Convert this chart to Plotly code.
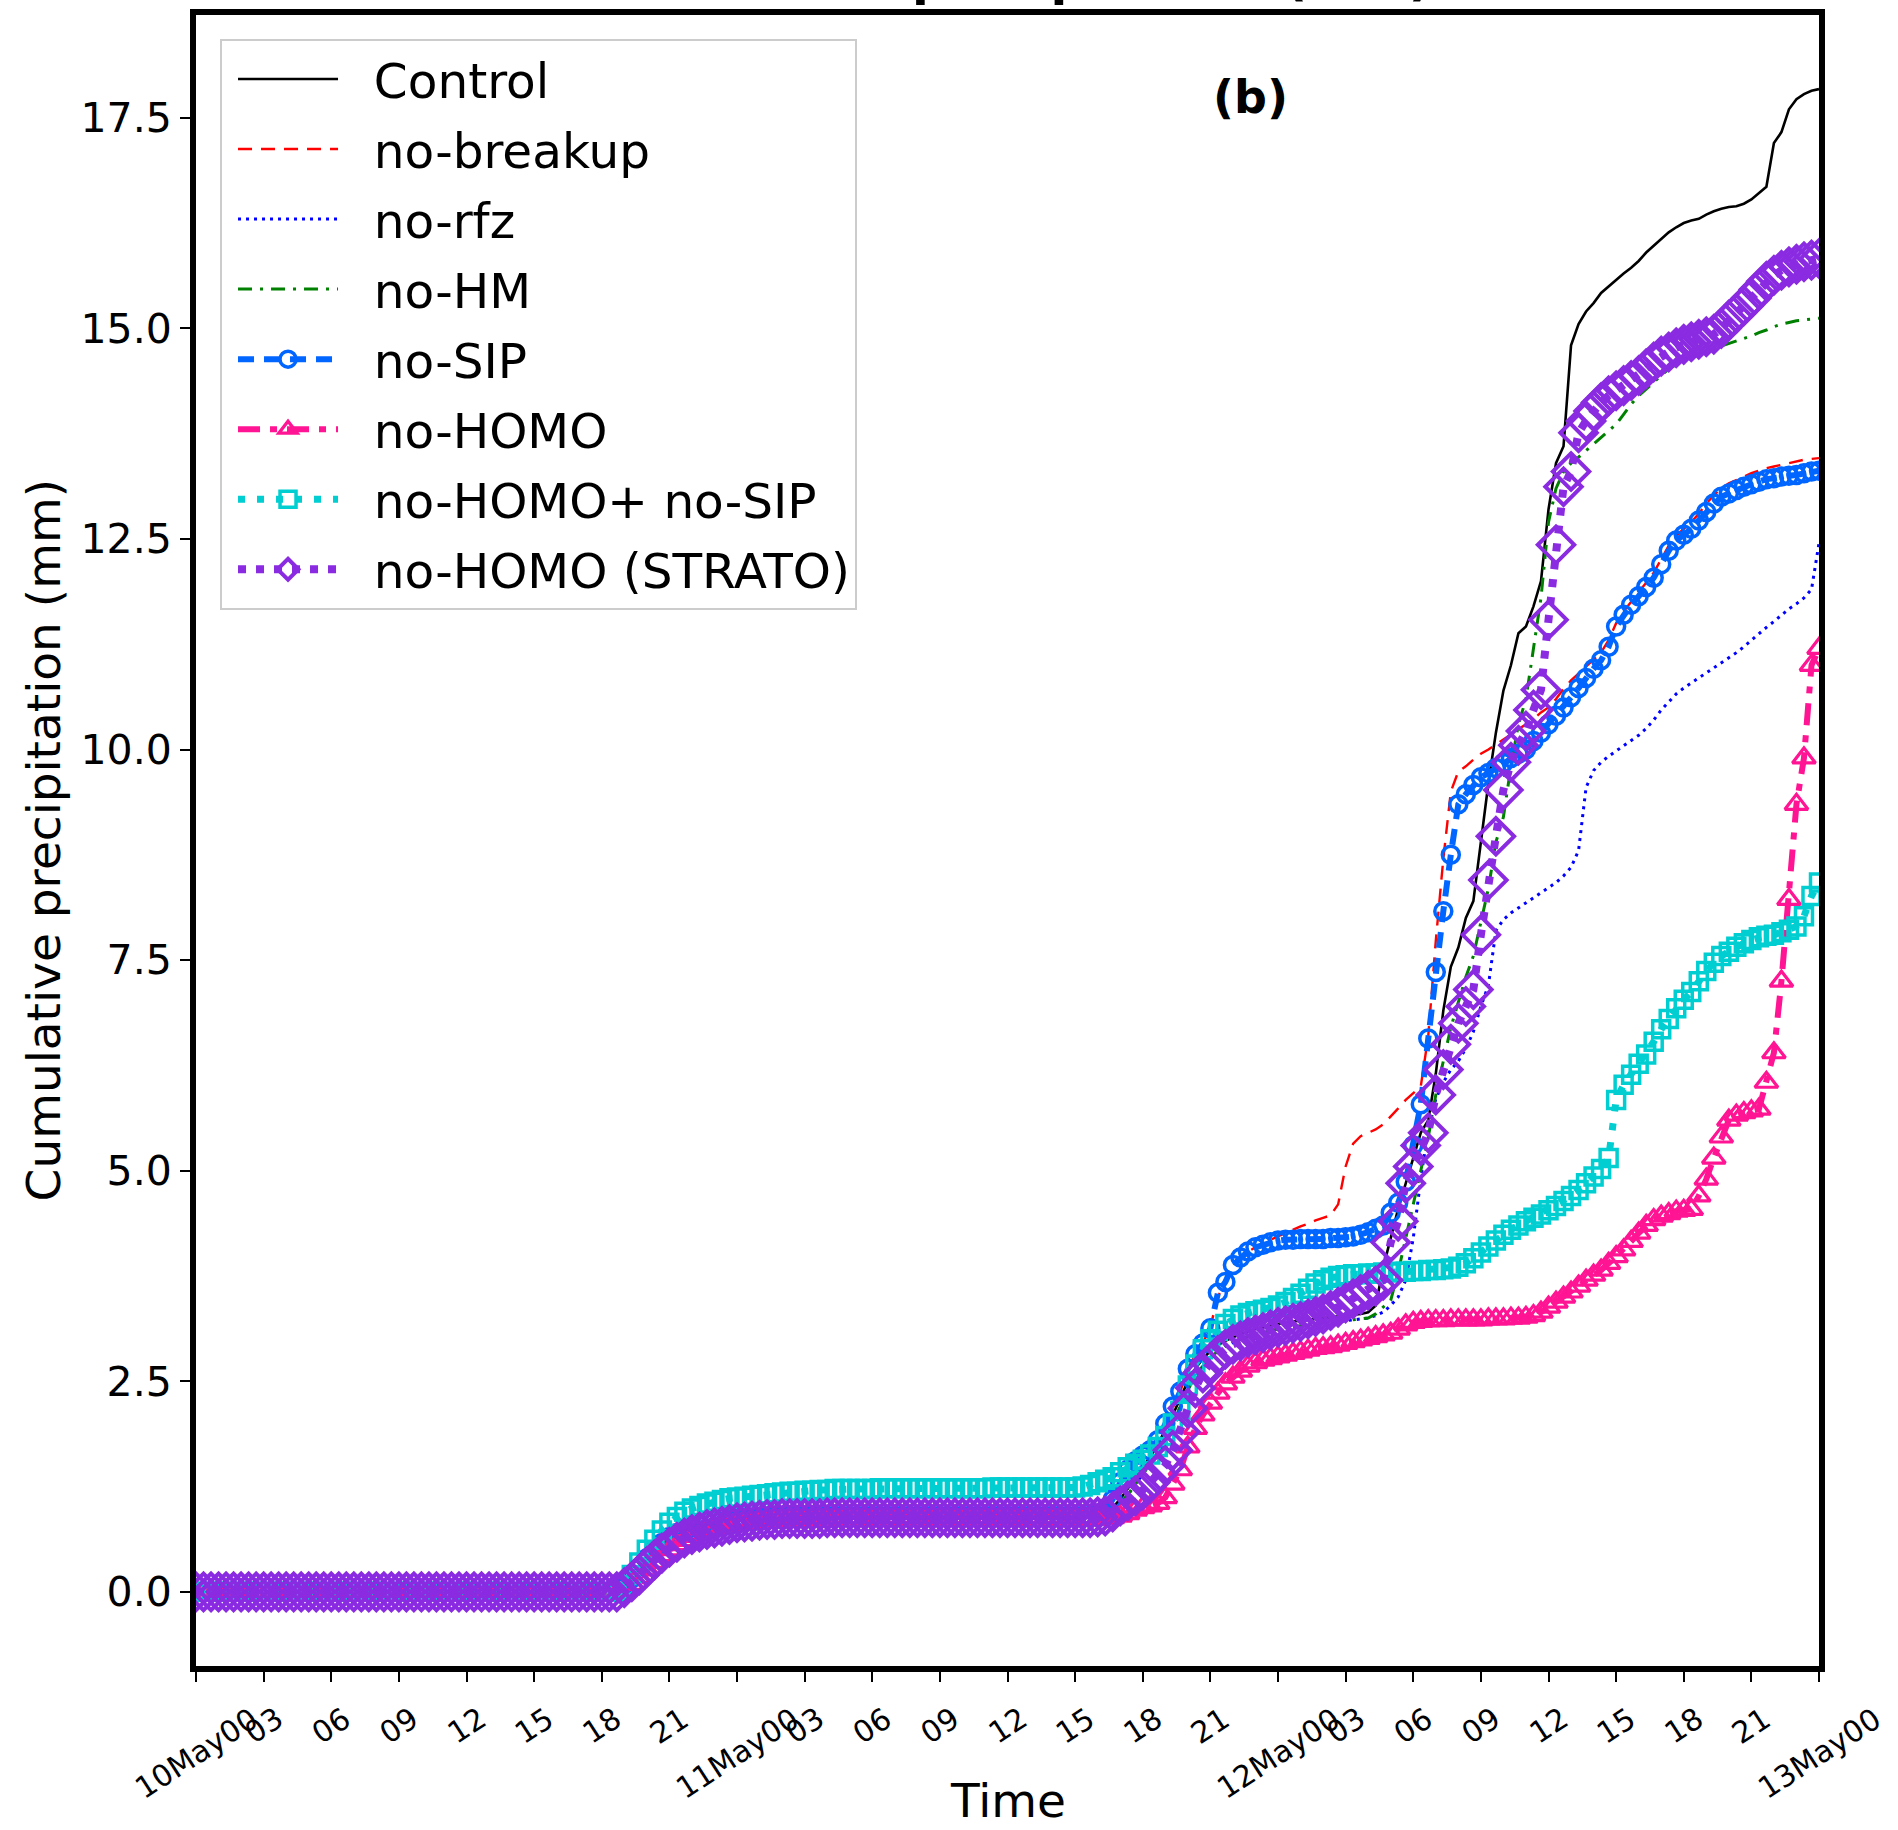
import plotly.graph_objects as go

# Model output every 20 minutes, from 10May00 to 13May00 (hours since 10May 00 UTC)
hours = [k / 3 for k in range(217)]

control = [
    0, 0, 0, 0, 0, 0, 0, 0, 0, 0, 0, 0, 0, 0, 0, 0, 0, 0,
    0, 0, 0, 0, 0, 0, 0, 0, 0, 0, 0, 0, 0, 0, 0, 0, 0, 0,
    0, 0, 0, 0, 0, 0, 0, 0, 0, 0, 0, 0, 0, 0, 0, 0, 0, 0,
    0, 0, 0, 0.05, 0.14, 0.25, 0.36, 0.46, 0.55, 0.62, 0.68, 0.73, 0.76, 0.79, 0.81, 0.83, 0.84, 0.85,
    0.86, 0.87, 0.88, 0.88, 0.89, 0.89, 0.9, 0.9, 0.9, 0.9, 0.9, 0.9, 0.9, 0.9, 0.9, 0.9, 0.9, 0.9,
    0.9, 0.9, 0.9, 0.9, 0.9, 0.9, 0.9, 0.9, 0.9, 0.9, 0.9, 0.9, 0.9, 0.9, 0.9, 0.9, 0.9, 0.9,
    0.9, 0.9, 0.9, 0.9, 0.9, 0.9, 0.9, 0.9, 0.9, 0.9, 0.9, 0.9, 0.9, 0.93, 1.0, 1.1, 1.22, 1.35,
    1.48, 1.6, 1.75, 1.92, 2.1, 2.3, 2.5, 2.65, 2.77, 2.86, 2.93, 2.98, 3.02, 3.06, 3.09, 3.12, 3.14, 3.16,
    3.18, 3.2, 3.21, 3.22, 3.23, 3.24, 3.25, 3.26, 3.27, 3.28, 3.29, 3.3, 3.32, 3.4, 3.85, 4.2, 4.55, 4.85,
    5.15, 5.45, 5.6, 6.15, 6.9, 7.42, 7.65, 8.0, 8.2, 8.9, 9.6, 10.2, 10.7, 11.0, 11.38, 11.46, 11.7, 12.0,
    12.85, 13.4, 13.6, 14.8, 15.05, 15.2, 15.3, 15.42, 15.5, 15.57, 15.65, 15.72, 15.8, 15.9, 15.98, 16.07, 16.14, 16.2,
    16.25, 16.28, 16.3, 16.35, 16.39, 16.42, 16.44, 16.45, 16.48, 16.53, 16.6, 16.68, 17.2, 17.33, 17.6, 17.72, 17.78, 17.82,
    17.84,
]

no_breakup = [
    0, 0, 0, 0, 0, 0, 0, 0, 0, 0, 0, 0, 0, 0, 0, 0, 0, 0,
    0, 0, 0, 0, 0, 0, 0, 0, 0, 0, 0, 0, 0, 0, 0, 0, 0, 0,
    0, 0, 0, 0, 0, 0, 0, 0, 0, 0, 0, 0, 0, 0, 0, 0, 0, 0,
    0, 0, 0, 0.06, 0.16, 0.28, 0.4, 0.5, 0.58, 0.65, 0.7, 0.74, 0.77, 0.8, 0.82, 0.84, 0.85, 0.86,
    0.87, 0.88, 0.88, 0.89, 0.89, 0.9, 0.9, 0.9, 0.9, 0.9, 0.9, 0.9, 0.9, 0.9, 0.9, 0.9, 0.9, 0.9,
    0.9, 0.9, 0.9, 0.9, 0.9, 0.9, 0.9, 0.9, 0.9, 0.9, 0.9, 0.9, 0.9, 0.9, 0.9, 0.9, 0.9, 0.9,
    0.9, 0.9, 0.9, 0.9, 0.9, 0.9, 0.9, 0.9, 0.9, 0.9, 0.9, 0.9, 0.92, 0.97, 1.1, 1.3, 1.45, 1.55,
    1.62, 1.68, 1.8, 2.0, 2.2, 2.38, 2.65, 2.82, 2.95, 3.15, 3.5, 3.68, 3.88, 3.97, 4.04, 4.09, 4.14, 4.18,
    4.22, 4.26, 4.3, 4.34, 4.37, 4.41, 4.44, 4.47, 4.6, 5.05, 5.32, 5.41, 5.45, 5.49, 5.55, 5.64, 5.74, 5.84,
    5.92, 6.0, 6.6, 7.73, 8.7, 9.5, 9.74, 9.8, 9.88, 9.95, 10.0, 10.06, 10.13, 10.19, 10.25, 10.3, 10.36, 10.44,
    10.5, 10.6, 10.72, 10.82, 10.9, 10.98, 11.06, 11.15, 11.3, 11.5, 11.64, 11.76, 11.87, 11.98, 12.1, 12.26, 12.42, 12.54,
    12.62, 12.7, 12.8, 12.92, 13.02, 13.1, 13.16, 13.2, 13.24, 13.28, 13.31, 13.34, 13.36, 13.38, 13.4, 13.42, 13.44, 13.45,
    13.46,
]

no_rfz = [
    0, 0, 0, 0, 0, 0, 0, 0, 0, 0, 0, 0, 0, 0, 0, 0, 0, 0,
    0, 0, 0, 0, 0, 0, 0, 0, 0, 0, 0, 0, 0, 0, 0, 0, 0, 0,
    0, 0, 0, 0, 0, 0, 0, 0, 0, 0, 0, 0, 0, 0, 0, 0, 0, 0,
    0, 0, 0, 0.05, 0.13, 0.24, 0.35, 0.45, 0.54, 0.61, 0.67, 0.72, 0.75, 0.78, 0.8, 0.82, 0.83, 0.84,
    0.85, 0.86, 0.87, 0.87, 0.88, 0.88, 0.89, 0.89, 0.89, 0.89, 0.89, 0.89, 0.89, 0.89, 0.89, 0.89, 0.89, 0.89,
    0.89, 0.89, 0.89, 0.89, 0.89, 0.89, 0.89, 0.89, 0.89, 0.89, 0.89, 0.89, 0.89, 0.89, 0.89, 0.89, 0.89, 0.89,
    0.89, 0.89, 0.89, 0.89, 0.89, 0.89, 0.89, 0.89, 0.89, 0.89, 0.89, 0.89, 0.9, 0.92, 0.97, 1.05, 1.15, 1.27,
    1.4, 1.52, 1.66, 1.82, 2.0, 2.2, 2.4, 2.56, 2.68, 2.78, 2.86, 2.92, 2.96, 3.0, 3.03, 3.06, 3.08, 3.1,
    3.12, 3.14, 3.15, 3.16, 3.17, 3.18, 3.19, 3.2, 3.21, 3.22, 3.23, 3.24, 3.25, 3.28, 3.32, 3.4, 3.5, 3.7,
    4.2, 4.9, 5.5, 5.85, 6.05, 6.2, 6.3, 6.45, 6.65, 6.95, 7.2, 7.85, 7.98, 8.06, 8.12, 8.19, 8.25, 8.3,
    8.36, 8.42, 8.5, 8.6, 8.8, 9.55, 9.75, 9.85, 9.92, 9.98, 10.04, 10.1, 10.17, 10.25, 10.35, 10.47, 10.57, 10.66,
    10.73, 10.79, 10.85, 10.91, 10.96, 11.02, 11.08, 11.15, 11.22, 11.3, 11.37, 11.45, 11.52, 11.6, 11.67, 11.73, 11.8, 11.9,
    12.45,
]

no_hm = [
    0, 0, 0, 0, 0, 0, 0, 0, 0, 0, 0, 0, 0, 0, 0, 0, 0, 0,
    0, 0, 0, 0, 0, 0, 0, 0, 0, 0, 0, 0, 0, 0, 0, 0, 0, 0,
    0, 0, 0, 0, 0, 0, 0, 0, 0, 0, 0, 0, 0, 0, 0, 0, 0, 0,
    0, 0, 0, 0.05, 0.13, 0.24, 0.35, 0.45, 0.54, 0.61, 0.67, 0.72, 0.75, 0.78, 0.8, 0.82, 0.83, 0.84,
    0.85, 0.86, 0.87, 0.87, 0.88, 0.88, 0.89, 0.89, 0.89, 0.89, 0.89, 0.89, 0.89, 0.89, 0.89, 0.89, 0.89, 0.89,
    0.89, 0.89, 0.89, 0.89, 0.89, 0.89, 0.89, 0.89, 0.89, 0.89, 0.89, 0.89, 0.89, 0.89, 0.89, 0.89, 0.89, 0.89,
    0.89, 0.89, 0.89, 0.89, 0.89, 0.89, 0.89, 0.89, 0.89, 0.89, 0.89, 0.89, 0.9, 0.92, 0.97, 1.05, 1.15, 1.27,
    1.4, 1.52, 1.66, 1.82, 2.0, 2.2, 2.4, 2.56, 2.68, 2.78, 2.86, 2.92, 2.96, 3.0, 3.03, 3.06, 3.08, 3.1,
    3.12, 3.14, 3.15, 3.16, 3.17, 3.18, 3.19, 3.2, 3.21, 3.22, 3.23, 3.24, 3.25, 3.3, 3.38, 3.46, 3.8, 4.2,
    4.6, 5.0, 5.4, 5.9, 6.3, 6.7, 7.0, 7.3, 7.55, 7.95, 8.35, 8.9, 9.2, 9.8, 10.3, 10.6, 11.2, 11.8,
    12.7, 13.1, 13.3, 13.4, 13.47, 13.55, 13.62, 13.7, 13.78, 13.86, 13.98, 14.1, 14.2, 14.28, 14.35, 14.44, 14.52, 14.57,
    14.62, 14.66, 14.69, 14.73, 14.76, 14.79, 14.82, 14.85, 14.88, 14.91, 14.95, 14.98, 15.02, 15.05, 15.07, 15.09, 15.1, 15.11,
    15.12,
]

no_sip = [
    0, 0, 0, 0, 0, 0, 0, 0, 0, 0, 0, 0, 0, 0, 0, 0, 0, 0,
    0, 0, 0, 0, 0, 0, 0, 0, 0, 0, 0, 0, 0, 0, 0, 0, 0, 0,
    0, 0, 0, 0, 0, 0, 0, 0, 0, 0, 0, 0, 0, 0, 0, 0, 0, 0,
    0, 0, 0, 0.06, 0.16, 0.28, 0.4, 0.5, 0.58, 0.65, 0.7, 0.74, 0.77, 0.8, 0.82, 0.84, 0.85, 0.86,
    0.87, 0.88, 0.88, 0.89, 0.89, 0.9, 0.9, 0.9, 0.9, 0.9, 0.9, 0.9, 0.9, 0.9, 0.9, 0.9, 0.9, 0.9,
    0.9, 0.9, 0.9, 0.9, 0.9, 0.9, 0.9, 0.9, 0.9, 0.9, 0.9, 0.9, 0.9, 0.9, 0.9, 0.9, 0.9, 0.9,
    0.9, 0.9, 0.9, 0.9, 0.9, 0.9, 0.9, 0.9, 0.9, 0.9, 0.9, 0.9, 0.92, 0.97, 1.1, 1.3, 1.45, 1.55,
    1.62, 1.68, 1.8, 2.0, 2.2, 2.38, 2.65, 2.82, 2.95, 3.13, 3.55, 3.68, 3.88, 3.97, 4.04, 4.09, 4.12, 4.15,
    4.17, 4.18, 4.18, 4.19, 4.19, 4.19, 4.19, 4.2, 4.2, 4.21, 4.22, 4.24, 4.27, 4.31, 4.35, 4.5, 4.62, 4.87,
    5.3, 5.79, 6.57, 7.36, 8.08, 8.75, 9.35, 9.47, 9.58, 9.67, 9.72, 9.78, 9.84, 9.9, 9.95, 10.0, 10.1, 10.2,
    10.3, 10.4, 10.5, 10.62, 10.73, 10.85, 10.96, 11.06, 11.22, 11.46, 11.6, 11.72, 11.82, 11.93, 12.04, 12.2, 12.36, 12.48,
    12.55, 12.62, 12.72, 12.82, 12.92, 13.0, 13.04, 13.08, 13.12, 13.15, 13.18, 13.21, 13.22, 13.24, 13.25, 13.26, 13.28, 13.3,
    13.31,
]

no_homo = [
    0, 0, 0, 0, 0, 0, 0, 0, 0, 0, 0, 0, 0, 0, 0, 0, 0, 0,
    0, 0, 0, 0, 0, 0, 0, 0, 0, 0, 0, 0, 0, 0, 0, 0, 0, 0,
    0, 0, 0, 0, 0, 0, 0, 0, 0, 0, 0, 0, 0, 0, 0, 0, 0, 0,
    0, 0, 0, 0.03, 0.09, 0.17, 0.26, 0.35, 0.43, 0.5, 0.56, 0.61, 0.66, 0.69, 0.72, 0.74, 0.76, 0.78,
    0.8, 0.81, 0.82, 0.83, 0.84, 0.84, 0.85, 0.85, 0.85, 0.85, 0.85, 0.85, 0.86, 0.86, 0.86, 0.86, 0.86, 0.86,
    0.86, 0.86, 0.86, 0.86, 0.86, 0.86, 0.86, 0.86, 0.86, 0.86, 0.86, 0.86, 0.86, 0.86, 0.86, 0.86, 0.86, 0.86,
    0.86, 0.86, 0.86, 0.86, 0.86, 0.86, 0.86, 0.86, 0.86, 0.86, 0.86, 0.86, 0.86, 0.87, 0.88, 0.9, 0.93, 0.97,
    1.0, 1.02, 1.05, 1.12, 1.28, 1.45, 1.72, 1.94, 2.1, 2.24, 2.36, 2.47, 2.55, 2.62, 2.68, 2.72, 2.75, 2.77,
    2.79, 2.81, 2.83, 2.85, 2.87, 2.89, 2.9, 2.91, 2.93, 2.95, 2.97, 2.99, 3.01, 3.03, 3.05, 3.07, 3.12, 3.17,
    3.2, 3.21, 3.22, 3.22, 3.22, 3.23, 3.23, 3.23, 3.23, 3.23, 3.24, 3.24, 3.24, 3.25, 3.25, 3.26, 3.28, 3.32,
    3.38, 3.44, 3.5, 3.56, 3.63, 3.7, 3.76, 3.82, 3.9, 3.98, 4.06, 4.16, 4.26, 4.35, 4.42, 4.46, 4.49, 4.52,
    4.53, 4.54, 4.7, 4.9, 5.15, 5.4, 5.6, 5.66, 5.69, 5.71, 5.73, 6.05, 6.4, 7.25, 8.22, 9.35, 9.9, 11.0,
    11.2,
]

no_homo_no_sip = [
    0, 0, 0, 0, 0, 0, 0, 0, 0, 0, 0, 0, 0, 0, 0, 0, 0, 0,
    0, 0, 0, 0, 0, 0, 0, 0, 0, 0, 0, 0, 0, 0, 0, 0, 0, 0,
    0, 0, 0, 0, 0, 0, 0, 0, 0, 0, 0, 0, 0, 0, 0, 0, 0, 0,
    0, 0, 0, 0.08, 0.2, 0.35, 0.5, 0.62, 0.73, 0.82, 0.89, 0.95, 0.99, 1.02, 1.05, 1.07, 1.09, 1.11,
    1.12, 1.13, 1.14, 1.15, 1.16, 1.17, 1.18, 1.19, 1.19, 1.2, 1.2, 1.21, 1.21, 1.22, 1.22, 1.22, 1.22, 1.22,
    1.22, 1.23, 1.23, 1.23, 1.23, 1.23, 1.23, 1.23, 1.23, 1.23, 1.23, 1.23, 1.23, 1.23, 1.23, 1.23, 1.24, 1.24,
    1.24, 1.24, 1.24, 1.24, 1.24, 1.24, 1.24, 1.24, 1.24, 1.24, 1.25, 1.27, 1.3, 1.33, 1.36, 1.42, 1.48, 1.52,
    1.57, 1.63, 1.72, 1.85, 2.0, 2.15, 2.45, 2.7, 2.88, 3.0, 3.1, 3.18, 3.24, 3.28, 3.31, 3.33, 3.35, 3.37,
    3.4, 3.44, 3.49, 3.54, 3.6, 3.66, 3.7, 3.73, 3.75, 3.76, 3.77, 3.77, 3.78, 3.78, 3.79, 3.79, 3.8, 3.8,
    3.81, 3.81, 3.82, 3.82, 3.83, 3.84, 3.86, 3.9, 3.96, 4.03, 4.1, 4.17, 4.24, 4.3, 4.35, 4.4, 4.44, 4.48,
    4.53, 4.58, 4.64, 4.7, 4.77, 4.85, 4.93, 5.02, 5.15, 5.84, 6.02, 6.14, 6.27, 6.38, 6.53, 6.68, 6.8, 6.93,
    7.03, 7.12, 7.25, 7.37, 7.47, 7.55, 7.6, 7.66, 7.7, 7.74, 7.77, 7.79, 7.8, 7.83, 7.86, 7.9, 8.02, 8.26,
    8.42,
]

no_homo_strato = [
    0, 0, 0, 0, 0, 0, 0, 0, 0, 0, 0, 0, 0, 0, 0, 0, 0, 0,
    0, 0, 0, 0, 0, 0, 0, 0, 0, 0, 0, 0, 0, 0, 0, 0, 0, 0,
    0, 0, 0, 0, 0, 0, 0, 0, 0, 0, 0, 0, 0, 0, 0, 0, 0, 0,
    0, 0, 0, 0.05, 0.12, 0.2, 0.3, 0.38, 0.46, 0.53, 0.59, 0.64, 0.68, 0.71, 0.74, 0.76, 0.78, 0.8,
    0.82, 0.83, 0.84, 0.85, 0.86, 0.86, 0.87, 0.87, 0.87, 0.87, 0.87, 0.87, 0.88, 0.88, 0.88, 0.88, 0.88, 0.88,
    0.88, 0.88, 0.88, 0.88, 0.88, 0.88, 0.88, 0.88, 0.88, 0.88, 0.88, 0.88, 0.88, 0.88, 0.88, 0.88, 0.88, 0.88,
    0.88, 0.88, 0.88, 0.88, 0.88, 0.88, 0.88, 0.88, 0.88, 0.88, 0.88, 0.88, 0.89, 0.9, 0.95, 1.02, 1.08, 1.14,
    1.21, 1.3, 1.4, 1.5, 1.68, 1.9, 2.18, 2.42, 2.6, 2.72, 2.81, 2.88, 2.94, 2.98, 3.02, 3.05, 3.08, 3.11,
    3.14, 3.16, 3.19, 3.21, 3.24, 3.27, 3.3, 3.34, 3.38, 3.43, 3.48, 3.53, 3.58, 3.63, 3.7, 4.15, 4.4, 4.85,
    5.05, 5.3, 5.45, 5.9, 6.2, 6.5, 6.75, 6.95, 7.15, 7.8, 8.45, 8.97, 9.52, 9.85, 10.05, 10.22, 10.47, 10.71,
    11.54, 12.43, 13.12, 13.3, 13.76, 13.9, 14.02, 14.12, 14.2, 14.26, 14.32, 14.38, 14.44, 14.52, 14.6, 14.67, 14.72, 14.77,
    14.81, 14.84, 14.87, 14.9, 14.93, 15.0, 15.1, 15.18, 15.27, 15.36, 15.46, 15.56, 15.63, 15.69, 15.73, 15.76, 15.79, 15.81,
    15.83,
]

tick_hours = [0, 3, 6, 9, 12, 15, 18, 21, 24, 27, 30, 33, 36, 39, 42, 45, 48, 51, 54, 57, 60, 63, 66, 69, 72]
tick_labels = ["10May00", "03", "06", "09", "12", "15", "18", "21",
               "11May00", "03", "06", "09", "12", "15", "18", "21",
               "12May00", "03", "06", "09", "12", "15", "18", "21", "13May00"]
y_ticks = [0, 2.5, 5, 7.5, 10, 12.5, 15, 17.5]
y_tick_labels = ["0.0", "2.5", "5.0", "7.5", "10.0", "12.5", "15.0", "17.5"]

FONT = "DejaVu Sans"
PAD = "\u00a0\u00a0"   # gap between legend sample and legend text

fig = go.Figure()


def add_line(y, name, color, width, dash):
    fig.add_trace(go.Scatter(
        x=hours, y=y, name=PAD + name, mode="lines", legendgroup=name,
        line=dict(color=color, width=width, dash=dash),
    ))


def add_marked(y, name, color, width, dash, symbol, size, mlw):
    fig.add_trace(go.Scatter(
        x=hours, y=y, name=PAD + name, mode="lines+markers", legendgroup=name,
        line=dict(color=color, width=width, dash=dash),
        marker=dict(symbol=symbol, size=size, color=color,
                    line=dict(color=color, width=mlw)),
    ))


add_line(control, "Control", "black", 2.6, "solid")
add_line(no_breakup, "no-breakup", "#ff0000", 2.4, "14px,9px")
add_line(no_rfz, "no-rfz", "#0000ff", 3, "3px,5px")
add_line(no_hm, "no-HM", "#008000", 3, "14px,8px,3px,8px")
add_marked(no_sip, "no-SIP", "#0066ff", 6, "16px,10px", "circle-open", 17, 3.5)
add_marked(no_homo, "no-HOMO", "#ff1493", 6, "22px,10px,7px,10px", "triangle-up-open", 20, 3.2)
add_marked(no_homo_no_sip, "no-HOMO+ no-SIP", "#00ced1", 7, "7px,12px", "square-open", 17, 3.5)
add_marked(no_homo_strato, "no-HOMO (STRATO)", "#8a2be2", 8, "8px,10px", "diamond-open", 28, 4)

annotations = [
    dict(text=lab, x=h, xref="x", y=-0.0194, yref="paper",
         xanchor="center", yanchor="top", textangle=-33, showarrow=False,
         font=dict(size=30, family=FONT, color="black"))
    for h, lab in zip(tick_hours, tick_labels)
]
annotations += [
    dict(text="Time", x=0.5, xref="paper", y=-0.0815, yref="paper",
         xanchor="center", yanchor="middle", showarrow=False,
         font=dict(size=47, family=FONT, color="black")),
    dict(text="Cumulative precipitation (mm)", x=-0.0937, xref="paper", y=0.5, yref="paper",
         xanchor="center", yanchor="middle", textangle=-90, showarrow=False,
         font=dict(size=47, family=FONT, color="black")),
    dict(text="<b>(b)</b>", x=0.650, y=0.9503, xref="paper", yref="paper",
         xanchor="center", yanchor="middle",
         showarrow=False, font=dict(size=46, family=FONT, color="black")),
    dict(text="<b>Cumulative precipitation (mm)</b>", x=0.5, y=1.0035,
         xref="paper", yref="paper", xanchor="center", yanchor="bottom",
         showarrow=False, font=dict(size=49, family=FONT, color="black")),
]

fig.update_layout(
    width=1898, height=1830,
    margin=dict(l=196, r=79, t=15, b=164),
    plot_bgcolor="white", paper_bgcolor="white",
    font=dict(family=FONT, color="black"),
    legend=dict(
        x=0.0148, y=0.9855, xanchor="left", yanchor="top",
        bgcolor="rgba(255,255,255,0.85)", bordercolor="#cccccc", borderwidth=2,
        font=dict(size=48.5, family=FONT), itemwidth=100, indentation=11,
        traceorder="grouped", tracegroupgap=4,
    ),
    xaxis=dict(
        range=[0, 72], tickmode="array", tickvals=tick_hours, showticklabels=False,
        ticks="outside", ticklen=10, tickwidth=2, tickcolor="black",
        showline=True, linewidth=6, linecolor="black", mirror=True,
        showgrid=False, zeroline=False, automargin=False,
    ),
    yaxis=dict(
        range=[-0.88, 18.72], tickmode="array", tickvals=y_ticks, ticktext=y_tick_labels,
        tickfont=dict(size=41, family=FONT),
        ticks="outside", ticklen=10, tickwidth=2, tickcolor="black",
        showline=True, linewidth=6, linecolor="black", mirror=True,
        showgrid=False, zeroline=False, automargin=False,
    ),
    annotations=annotations,
)

fig.write_html(
    "out.html",
    config={"displayModeBar": False},
    post_script="document.body.style.margin='0';document.body.style.overflow='hidden';",
)
